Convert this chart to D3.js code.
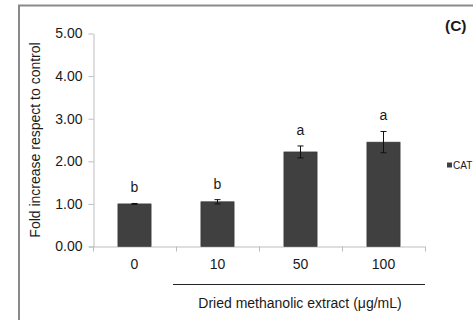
<!DOCTYPE html>
<html>
<head>
<meta charset="utf-8">
<script src="https://cdn.jsdelivr.net/npm/d3@7/dist/d3.min.js"></script>
<style>
  html, body { margin: 0; padding: 0; background: #fff; }
  svg { display: block; font-family: "Liberation Sans", Arial, sans-serif; }
</style>
</head>
<body>
<svg id="chart" width="473" height="320"></svg>
<script>
// CAT fold change per extract concentration
const doses = ["0", "10", "50", "100"];
const foldChange = [1.00, 1.05, 2.22, 2.45];
const errors = [0.01, 0.05, 0.14, 0.25];
const letters = ["b", "b", "a", "a"];
const yTicks = [0, 1, 2, 3, 4, 5];
const seriesName = "CAT";

const svg = d3.select("#chart");
const textColor = "#1a1a1a";
const axisColor = "#bdbdbd";
const barColor = "#404040";
const fontSize = "14px";

// outer frame (extends past the visible area on the right and bottom)
svg.append("rect")
  .attr("x", 19).attr("y", 5.5)
  .attr("width", 600).attr("height", 400)
  .attr("fill", "none")
  .attr("stroke", "#8a8a8a")
  .attr("stroke-width", 2);

const x = d3.scaleBand()
  .domain(doses)
  .range([93, 425])
  .paddingInner(0.6)
  .paddingOuter(0.3);

const y = d3.scaleLinear()
  .domain([0, 5])
  .range([246.5, 33.5]);

// y axis
const yAxis = svg.append("g")
  .attr("transform", "translate(93.5,0)")
  .call(d3.axisLeft(y)
    .tickValues(yTicks)
    .tickFormat(d3.format(".2f"))
    .tickSizeInner(5)
    .tickSizeOuter(0)
    .tickPadding(6));
yAxis.select(".domain").attr("stroke", axisColor);
yAxis.selectAll(".tick line").attr("stroke", axisColor);
yAxis.selectAll(".tick text")
  .attr("fill", textColor)
  .style("font-size", fontSize)
  .style("font-family", "Liberation Sans, Arial, sans-serif");

// x axis baseline with ticks at category boundaries
const x0 = x.range()[0], x1 = x.range()[1];
svg.append("line")
  .attr("x1", x0 - 4).attr("x2", x1)
  .attr("y1", y(0) + 0.5).attr("y2", y(0) + 0.5)
  .attr("stroke", axisColor);
const bounds = d3.range(doses.length + 1).map(i => x0 + i * x.step());
svg.selectAll(".xtick")
  .data(bounds)
  .join("line")
  .attr("class", "xtick")
  .attr("x1", d => Math.round(d) + 0.5).attr("x2", d => Math.round(d) + 0.5)
  .attr("y1", y(0)).attr("y2", y(0) + 5)
  .attr("stroke", axisColor);

// category labels
svg.selectAll(".xlabel")
  .data(doses)
  .join("text")
  .attr("class", "xlabel")
  .attr("x", d => x(d) + x.bandwidth() / 2)
  .attr("y", 269)
  .attr("text-anchor", "middle")
  .attr("fill", textColor)
  .style("font-size", fontSize)
  .text(d => d);

// bars
svg.selectAll(".bar")
  .data(doses)
  .join("rect")
  .attr("class", "bar")
  .attr("x", d => x(d))
  .attr("y", (d, i) => y(foldChange[i]))
  .attr("width", x.bandwidth())
  .attr("height", (d, i) => y(0) - y(foldChange[i]))
  .attr("fill", barColor)
  .attr("stroke", "#333")
  .attr("stroke-width", 0.6);

// error bars
const eb = svg.selectAll(".err")
  .data(doses)
  .join("g")
  .attr("class", "err")
  .attr("stroke", "#111")
  .attr("stroke-width", 1);
eb.append("line")
  .attr("x1", d => x(d) + x.bandwidth() / 2)
  .attr("x2", d => x(d) + x.bandwidth() / 2)
  .attr("y1", (d, i) => y(foldChange[i] + errors[i]))
  .attr("y2", (d, i) => y(foldChange[i] - errors[i]));
["+", "-"].forEach(sign => {
  eb.append("line")
    .attr("x1", d => x(d) + x.bandwidth() / 2 - 3)
    .attr("x2", d => x(d) + x.bandwidth() / 2 + 3)
    .attr("y1", (d, i) => y(foldChange[i] + (sign === "+" ? 1 : -1) * errors[i]))
    .attr("y2", (d, i) => y(foldChange[i] + (sign === "+" ? 1 : -1) * errors[i]));
});

// significance letters
svg.selectAll(".sig")
  .data(doses)
  .join("text")
  .attr("class", "sig")
  .attr("x", d => x(d) + x.bandwidth() / 2)
  .attr("y", (d, i) => y(foldChange[i] + errors[i]) - 11)
  .attr("text-anchor", "middle")
  .attr("fill", textColor)
  .style("font-size", fontSize)
  .text((d, i) => letters[i]);

// bracket line under the treated doses
svg.append("line")
  .attr("x1", x("10") - (x.step() - x.bandwidth()) / 2 - 3)
  .attr("x2", x1)
  .attr("y1", 284.5).attr("y2", 284.5)
  .attr("stroke", "#222");

// axis titles
svg.append("text")
  .attr("x", 300)
  .attr("y", 308)
  .attr("text-anchor", "middle")
  .attr("fill", textColor)
  .style("font-size", fontSize)
  .text("Dried methanolic extract (μg/mL)");

svg.append("text")
  .attr("transform", "translate(40,140) rotate(-90)")
  .attr("text-anchor", "middle")
  .attr("fill", textColor)
  .style("font-size", fontSize)
  .text("Fold increase respect to control");

// panel label
svg.append("text")
  .attr("x", 445)
  .attr("y", 30.5)
  .attr("fill", textColor)
  .style("font-size", "15.5px")
  .style("font-weight", "bold")
  .text("(C)");

// legend
svg.append("rect")
  .attr("x", 447).attr("y", 162.5)
  .attr("width", 5).attr("height", 5)
  .attr("fill", barColor);
svg.append("text")
  .attr("x", 453)
  .attr("y", 169)
  .attr("fill", textColor)
  .style("font-size", "10px")
  .text(seriesName);
</script>
</body>
</html>
